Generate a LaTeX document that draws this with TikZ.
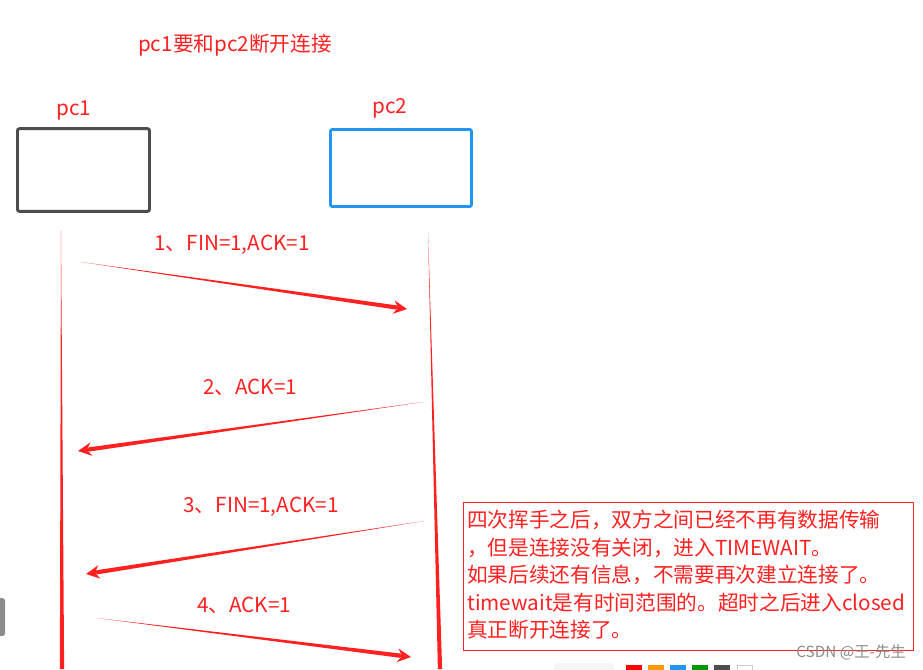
\documentclass[tikz,border=0pt]{standalone}
\usepackage{fontspec}
\setmainfont{Noto Sans CJK SC}
\usetikzlibrary{calc,arrows.meta}
\definecolor{inkred}{HTML}{FF2020}
\definecolor{boxgray}{HTML}{4D4D4D}
\definecolor{boxblue}{HTML}{2196F3}
\definecolor{markgray}{HTML}{8C8C8C}
\newcommand{\taperline}[3]{% from, to, half width at the end
    \fill[inkred] (#1) -- ($(#2)!#3!90:(#1)$) -- ($(#2)!#3!-90:(#1)$) -- cycle;
}
\newcommand{\sendarrow}[2]{
    \coordinate (#1-end) at ($(#2)!8pt!(#1)$);
    \taperline{#1}{#1-end}{1.6pt}
    \draw[inkred, line width=2pt, -{Stealth[length=10pt,width=10pt]}] ($(#2)!24pt!(#1)$) -- (#2);
}

\begin{document}
\begin{tikzpicture}[x=0.75pt,y=-0.75pt,
    msg/.style={text=inkred, font=\fontsize{15.5}{20.6}\selectfont, inner sep=0pt, anchor=base},
    machine/.style={draw=#1, line width=2.2pt, rounded corners=1.5pt}]
    \useasboundingbox (0,0) rectangle (923,669);
    \node[msg] (title) at (235,51) {pc1要和pc2断开连接};
    % the two machines
    \node[msg] (n1) at (74,115) {pc1};
    \node[msg] (n2) at (390,113) {pc2};
    \node[machine=boxgray, minimum width=99pt, minimum height=62pt] (pc1) at (83.5,170) {};
    \node[machine=boxblue, minimum width=105.75pt, minimum height=57.75pt] (pc2) at (401,168) {};
    % lifelines
    \coordinate (a) at (61,230);
    \coordinate (b) at (62,669);
    \coordinate (c) at (428,232);
    \coordinate (d) at (440,669);
    \taperline{a}{b}{1.6pt}
    \taperline{c}{d}{1.6pt}
    % the four messages
    \coordinate (e) at (81,262);
    \coordinate (f) at (407,309);
    \coordinate (g) at (423,402);
    \coordinate (h) at (78,451);
    \coordinate (i) at (424,521);
    \coordinate (j) at (86,574);
    \coordinate (k) at (97,618);
    \coordinate (l) at (411,657);
    \sendarrow{e}{f}
    \sendarrow{g}{h}
    \sendarrow{i}{j}
    \sendarrow{k}{l}
    \node[msg] (m1) at (232,250) {1、FIN=1,ACK=1};
    \node[msg] (m2) at (250,394) {2、ACK=1};
    \node[msg] (m3) at (261,512) {3、FIN=1,ACK=1};
    \node[msg] (m4) at (244,612) {4、ACK=1};
    % note
    \node[draw=inkred, line width=0.8pt, anchor=north west, minimum width=337.5pt, minimum height=111pt] (note) at (463,502) {};
    \node[msg, anchor=north west, align=left] (notetext) at (467,510) {四次挥手之后，双方之间已经不再有数据传输\\，但是连接没有关闭，进入TIMEWAIT。\\如果后续还有信息，不需要再次建立连接了。\\timewait是有时间范围的。超时之后进入closed\\真正断开连接了。};
    \node[text=markgray, font=\fontsize{11.5}{14}\selectfont, inner sep=0pt, anchor=base] (mark) at (851,657) {CSDN @王-先生};
    % screen bits
    \fill[gray!90, rounded corners=2pt] (-6,598) rectangle (5,636);
    \fill[gray!8, rounded corners=2pt] (554,663) rectangle (614,672);
    \foreach \x/\col in {626/red, 648/orange!80!yellow, 670/boxblue, 692/green!60!black, 714/boxgray}
        \fill[\col] (\x,665) rectangle ++(16,7);
    \draw[gray!40, line width=0.6pt] (737,665.5) rectangle ++(15,7);
\end{tikzpicture}
\end{document}
